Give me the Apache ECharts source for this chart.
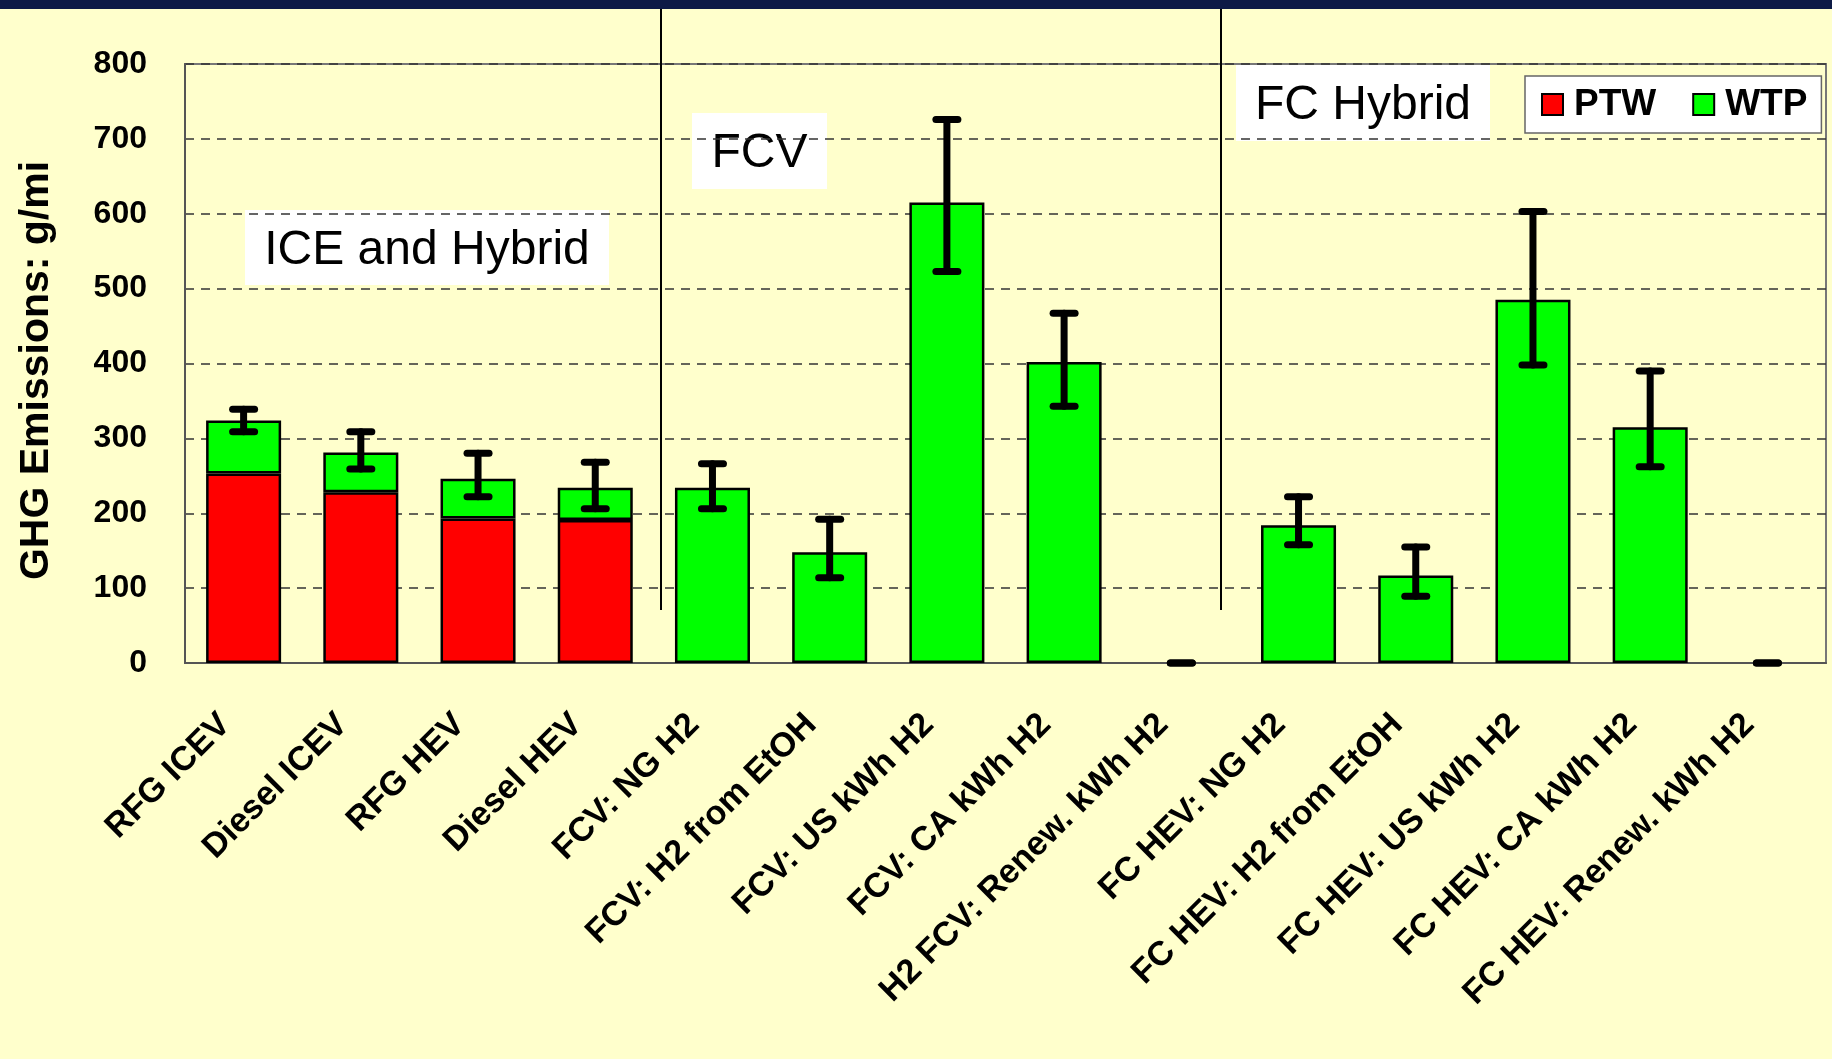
<!DOCTYPE html>
<html>
<head>
<meta charset="utf-8">
<script src="https://cdn.jsdelivr.net/npm/echarts@6/dist/echarts.min.js"></script>
<style>
html,body{margin:0;padding:0;background:#FFFFCC;}
#c{width:1832px;height:1059px;}
</style>
</head>
<body>
<div id="c"></div>
<script>
const categories = ["RFG ICEV","Diesel ICEV","RFG HEV","Diesel HEV","FCV: NG H2","FCV: H2 from EtOH","FCV: US kWh H2","FCV: CA kWh H2","H2 FCV: Renew. kWh H2","FC HEV: NG H2","FC HEV: H2 from EtOH","FC HEV: US kWh H2","FC HEV: CA kWh H2","FC HEV: Renew. kWh H2"];
const ptw = [253, 228, 193, 191, '-', '-', '-', '-', '-', '-', '-', '-', '-', '-'];
const wtp = [71, 53, 53, 43, 234, 148, 615, 402, 0, 184, 117, 485, 315, 0];
const errLow  = [309, 259, 222, 206, 206, 114, 523, 343, 0, 158, 89, 398, 262, 0];
const errHigh = [339, 309, 280, 268, 266, 192, 726, 467, 0, 222, 155, 603, 390, 0];
const yTicks = {min: 0, max: 800, interval: 100};
const sectionLabels = ["ICE and Hybrid", "FCV", "FC Hybrid"];

const chart = echarts.init(document.getElementById('c'), null, {renderer: 'canvas'});
const boldFont = 'Liberation Sans, Arial, sans-serif';

const errData = categories.map((c, i) => [i, errLow[i], errHigh[i]]);
const wtpData = wtp.map(v => v === 0 ? {value: 0, itemStyle: {borderWidth: 0}} : v);

function textBox(x1, y1, x2, y2, text) {
  return {
    type: 'group', z: 50,
    children: [
      {type: 'rect', shape: {x: x1, y: y1, width: x2 - x1, height: y2 - y1}, style: {fill: '#ffffff'}},
      {type: 'text', x: (x1 + x2) / 2, y: (y1 + y2) / 2 + 3,
       style: {text: text, fill: '#000', font: 'normal 48px Liberation Sans, Arial, sans-serif', align: 'center', verticalAlign: 'middle'}}
    ]
  };
}

const option = {
  backgroundColor: '#FFFFCC',
  animation: false,
  grid: {left: 185, right: 6, top: 64, bottom: 396, show: true, borderColor: '#777', borderWidth: 2, backgroundColor: 'transparent'},
  legend: {
    data: ['PTW', 'WTP'],
    left: 1525, top: 76, icon: 'rect',
    backgroundColor: '#ffffff', borderColor: '#666', borderWidth: 1.5,
    padding: [10, 14, 10, 16],
    itemWidth: 21, itemHeight: 21, itemGap: 36,
    textStyle: {fontFamily: boldFont, fontWeight: 'bold', fontSize: 37, color: '#000', padding: [0, 0, 0, 6]}
  },
  xAxis: {
    type: 'category', data: categories,
    axisLine: {lineStyle: {color: '#555', width: 2}},
    axisTick: {show: false},
    axisLabel: {rotate: 45, interval: 0, margin: 38, color: '#000', fontFamily: boldFont, fontWeight: 'bold', fontSize: 34, padding: [0, 26, 0, 0]}
  },
  yAxis: {
    type: 'value', min: yTicks.min, max: yTicks.max, interval: yTicks.interval,
    name: 'GHG Emissions: g/mi', nameLocation: 'middle', nameGap: 128, nameRotate: 90,
    nameTextStyle: {fontFamily: boldFont, fontWeight: 'bold', fontSize: 41, color: '#000', padding: [0, 14, 0, 0]},
    axisLine: {show: true, lineStyle: {color: '#555', width: 2}},
    axisTick: {show: false},
    axisLabel: {margin: 38, color: '#000', fontFamily: boldFont, fontWeight: 'bold', fontSize: 32},
    splitLine: {show: true, lineStyle: {color: '#333', width: 1.5, type: [9, 7]}}
  },
  series: [
    {name: 'PTW', type: 'bar', stack: 'ghg', data: ptw, barCategoryGap: '36%',
     itemStyle: {color: '#FF0000', borderColor: '#000', borderWidth: 2.5}},
    {name: 'WTP', type: 'bar', stack: 'ghg', data: wtpData,
     itemStyle: {color: '#00FF00', borderColor: '#000', borderWidth: 2.5}},
    {name: 'err', type: 'custom', data: errData, z: 10,
     renderItem: function (params, api) {
       const i = api.value(0);
       const lo = api.coord([i, api.value(1)]);
       const hi = api.coord([i, api.value(2)]);
       const cw = 11;
       const st = {stroke: '#000', lineWidth: 7, lineCap: 'round', fill: null};
       return {type: 'group', children: [
         {type: 'line', shape: {x1: hi[0], y1: hi[1], x2: lo[0], y2: lo[1]}, style: st},
         {type: 'line', shape: {x1: hi[0] - cw, y1: hi[1], x2: hi[0] + cw, y2: hi[1]}, style: st},
         {type: 'line', shape: {x1: lo[0] - cw, y1: lo[1], x2: lo[0] + cw, y2: lo[1]}, style: st}
       ]};
     }}
  ],
  graphic: [
    {type: 'rect', shape: {x: 0, y: 0, width: 1832, height: 9}, style: {fill: '#0d1a46'}, z: 60},
    {type: 'line', shape: {x1: 661, y1: 0, x2: 661, y2: 610}, style: {stroke: '#000', lineWidth: 2}, z: 40},
    {type: 'line', shape: {x1: 1221, y1: 0, x2: 1221, y2: 610}, style: {stroke: '#000', lineWidth: 2}, z: 40},
    textBox(245, 210, 609, 285, sectionLabels[0]),
    textBox(692, 113, 827, 189, sectionLabels[1]),
    textBox(1236, 65, 1490, 141, sectionLabels[2])
  ]
};
chart.setOption(option);
</script>
</body>
</html>
